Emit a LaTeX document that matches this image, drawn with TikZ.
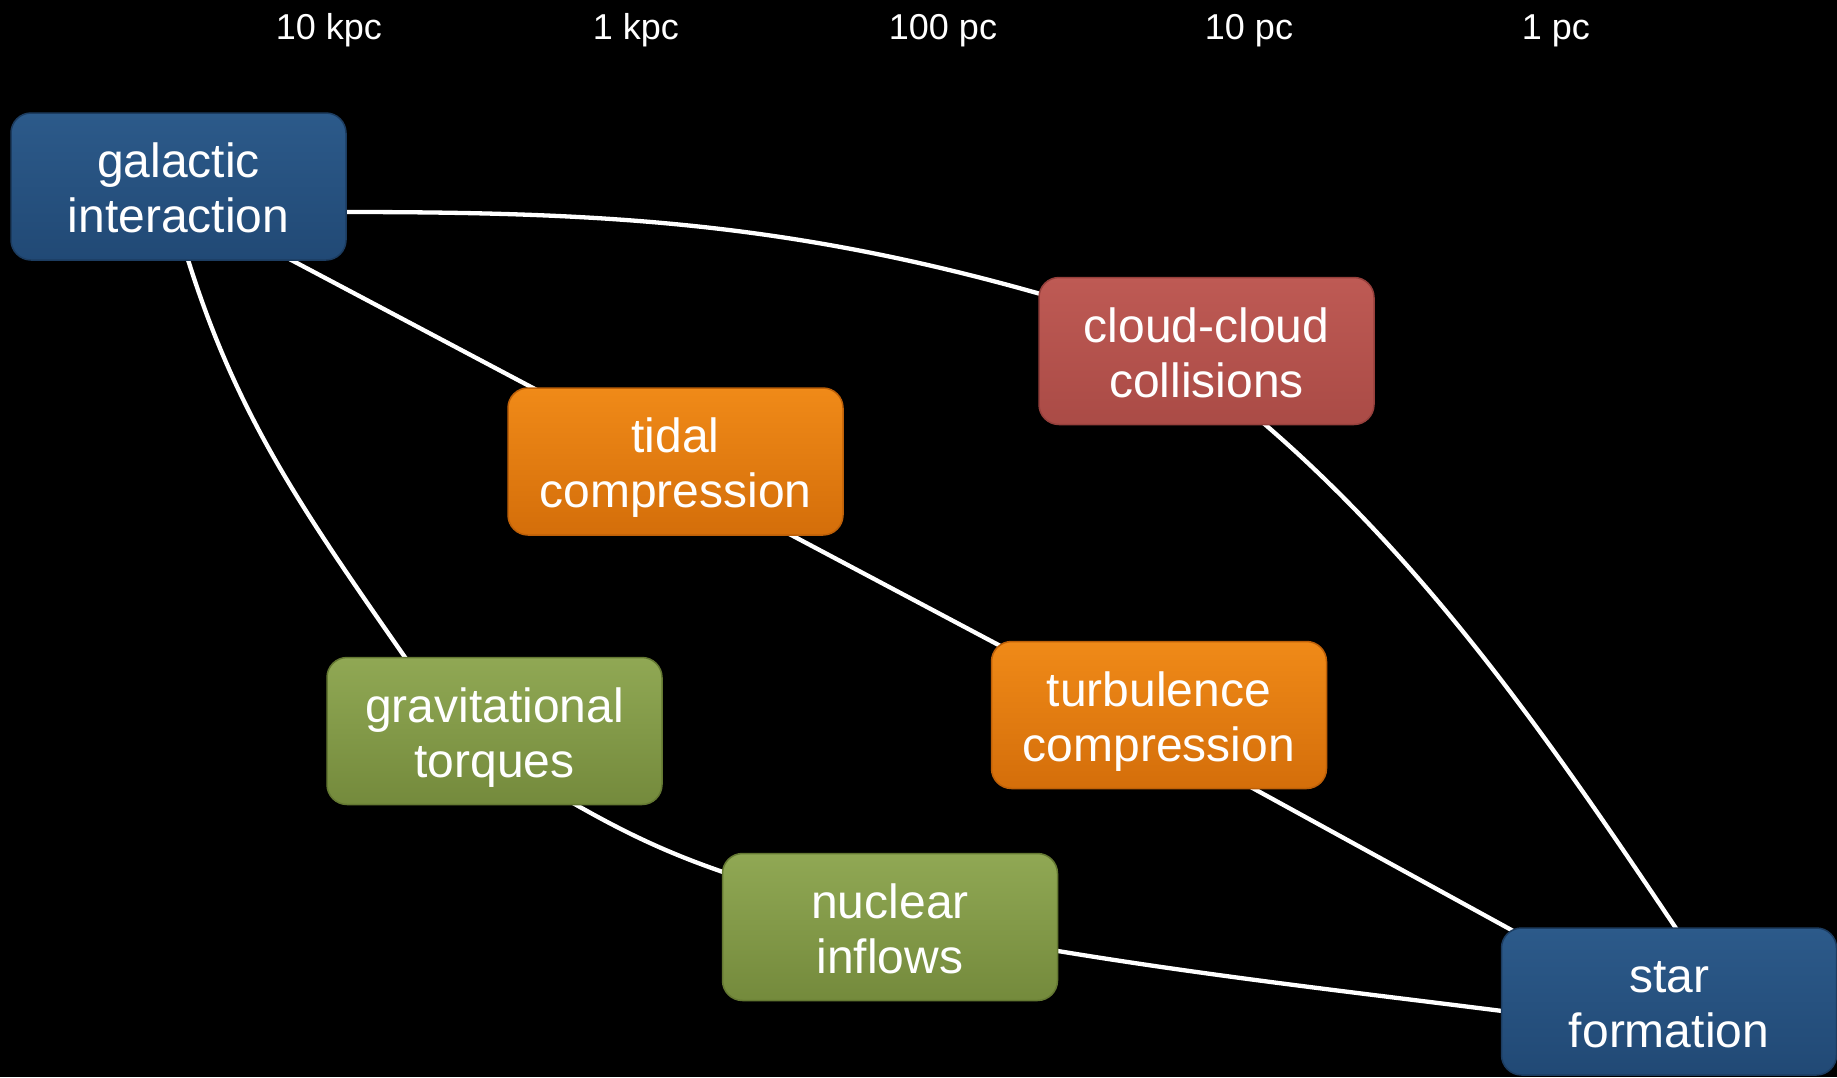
\documentclass[tikz,border=0pt]{standalone}
\usepackage{fontspec}
\setmainfont{Liberation Sans}
\usetikzlibrary{calc}
\pgfdeclarelayer{bglayer}
\pgfdeclarelayer{linelayer}
\pgfsetlayers{bglayer,linelayer,main}
\definecolor{bluetop}{RGB}{44,90,138}
\definecolor{bluebot}{RGB}{33,73,117}
\definecolor{blueedge}{RGB}{28,60,96}
\definecolor{orangetop}{RGB}{240,138,24}
\definecolor{orangebot}{RGB}{212,110,10}
\definecolor{orangeedge}{RGB}{190,96,8}
\definecolor{greentop}{RGB}{144,168,84}
\definecolor{greenbot}{RGB}{116,138,60}
\definecolor{greenedge}{RGB}{100,120,50}
\definecolor{redtop}{RGB}{190,90,84}
\definecolor{redbot}{RGB}{170,75,70}
\definecolor{rededge}{RGB}{150,64,60}
\tikzset{
  box/.style={rounded corners=20pt, minimum width=335pt, minimum height=147pt,
    align=center, text=white, line width=1.5pt, inner sep=0pt,
    text height=92pt, text depth=0pt,
    font=\fontsize{48}{55}\selectfont},
  bluebox/.style={box, top color=bluetop, bottom color=bluebot, draw=blueedge},
  orangebox/.style={box, top color=orangetop, bottom color=orangebot, draw=orangeedge},
  greenbox/.style={box, top color=greentop, bottom color=greenbot, draw=greenedge},
  redbox/.style={box, top color=redtop, bottom color=redbot, draw=rededge},
  scalelbl/.style={text=white, anchor=base, inner sep=0pt, font=\fontsize{36}{40}\selectfont},
  link/.style={draw=white, line width=4.3pt}
}
\begin{document}
\begin{tikzpicture}[x=1pt,y=-1pt]
\begin{pgfonlayer}{bglayer}
\fill[black] (0,0) rectangle (1837,1077);
\end{pgfonlayer}
\useasboundingbox (0,0) rectangle (1837,1077);

\node[scalelbl] (s1) at (329,39) {10 kpc};
\node[scalelbl] (s2) at (636,39) {1 kpc};
\node[scalelbl] (s3) at (943,39) {100 pc};
\node[scalelbl] (s4) at (1249,39) {10 pc};
\node[scalelbl] (s5) at (1556,39) {1 pc};

\node[bluebox] (gal) at (178.5,186.5) {galactic\\interaction};
\node[redbox] (cloud) at (1206.5,351) {cloud-cloud\\collisions};
\node[orangebox] (tidal) at (675.5,461.5) {tidal\\compression};
\node[greenbox] (grav) at (494.5,731) {gravitational\\torques};
\node[orangebox] (turb) at (1159,715) {turbulence\\compression};
\node[greenbox] (nuc) at (890,927) {nuclear\\inflows};
\node[bluebox] (star) at (1669,1001.5) {star\\formation};

\begin{pgfonlayer}{linelayer}
\draw[link] ($(gal.east)+(-6,25.5)$) .. controls +(257,0) and +(-262,-75.5) .. ($(cloud.west)+(11,-54.5)$);
\draw[link] ($(gal.south)+(91.5,-12)$) -- ($(tidal.north west)+(47,12)$);
\draw[link] ($(tidal.south)+(94.5,-12)$) -- ($(turb.north west)+(38.5,20.5)$);
\draw[link] ($(turb.south)+(73,-12.5)$) -- ($(star.north west)+(38.5,18)$);
\draw[link] ($(gal.south)+(7.5,-7.5)$) .. controls +(50,162.5) and +(-110,-158) .. ($(grav.north west)+(85,9.5)$);
\draw[link] ($(grav.south)+(74.5,-4.5)$) .. controls +(59,34) and +(-59.5,-20) .. ($(nuc.west)+(10,-52)$);
\draw[link] ($(nuc.east)+(-12.5,22)$) .. controls +(162,27) and +(-162,-20.5) .. ($(star.west)+(13.5,11)$);
\draw[link] ($(cloud.south)+(49.5,-8.5)$) .. controls +(175.5,148.5) and +(-120.6,-179.6) .. ($(star.north)+(11,7)$);
\end{pgfonlayer}
\end{tikzpicture}
\end{document}
